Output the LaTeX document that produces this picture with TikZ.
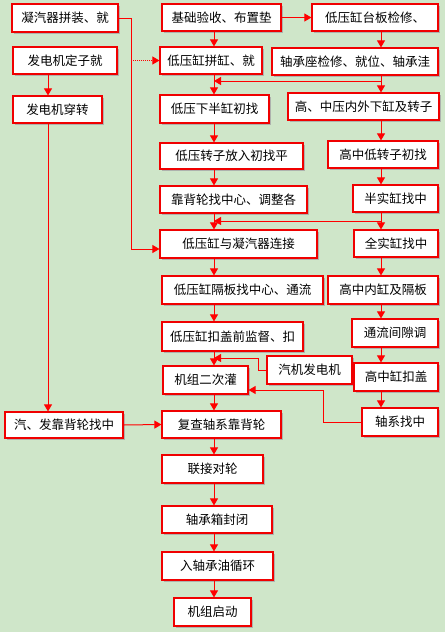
\documentclass[tikz,border=0pt]{standalone}
\usepackage{fontspec}
\newfontfamily\cjk{Noto Sans CJK SC}
\usepackage{xcolor}
\usepackage{tikz}
\usetikzlibrary{arrows.meta,shadows}
\definecolor{bggreen}{RGB}{207,230,201}
\definecolor{boxred}{RGB}{240,0,0}

\begin{document}
\begin{tikzpicture}[x=1pt, y=-1pt,
    box/.style={draw=boxred, line width=1.2pt, fill=white, inner sep=0pt,
        font=\cjk\fontsize{12.5}{14}\selectfont,
        drop shadow={shadow xshift=1.6pt, shadow yshift=-1.6pt, fill=gray!70, opacity=0.8}},
    arr/.style={draw=red, line width=1pt, -{Triangle[length=7pt,width=8pt]}},
    ln/.style={draw=red, line width=1pt},
    dotarr/.style={arr, densely dotted}]
    \useasboundingbox (0,0) rectangle (445,632);
    \fill[bggreen] (0,0) rectangle (445,632);
    % lanes
    \coordinate (laneL) at (48,0);
    \coordinate (laneM) at (214,0);
    \coordinate (laneR) at (381,0);
    % left column
    \node[box, minimum width=106, minimum height=28] (nq) at (65,18) {凝汽器拼装、就};
    \node[box, minimum width=104, minimum height=27] (fd) at (65,60.5) {发电机定子就};
    \node[box, minimum width=89, minimum height=27] (fc) at (57.5,109.5) {发电机穿转};
    \node[box, minimum width=118, minimum height=26] (kq) at (64,425) {汽、发靠背轮找中};
    % middle column
    \node[box, minimum width=119, minimum height=27] (jc) at (221.5,17.5) {基础验收、布置垫};
    \node[box, minimum width=102, minimum height=27] (pg) at (211,60.5) {低压缸拼缸、就};
    \node[box, minimum width=109, minimum height=28] (xb) at (214.5,109) {低压下半缸初找};
    \node[box, minimum width=143, minimum height=26] (zr) at (231.5,156) {低压转子放入初找平};
    \node[box, minimum width=147, minimum height=27] (kb) at (233.5,199.5) {靠背轮找中心、调整各};
    \node[box, minimum width=157, minimum height=28] (lj) at (238.5,244) {低压缸与凝汽器连接};
    \node[box, minimum width=161, minimum height=28] (gb) at (242.5,290) {低压缸隔板找中心、通流};
    \node[box, minimum width=141, minimum height=29] (kg) at (232.5,336.5) {低压缸扣盖前监督、扣};
    \node[box, minimum width=85, minimum height=28] (qf) at (309.5,370) {汽机发电机};
    \node[box, minimum width=85, minimum height=28] (ec) at (205.5,380) {机组二次灌};
    \node[box, minimum width=119, minimum height=27] (fz) at (221.5,424.5) {复查轴系靠背轮};
    \node[box, minimum width=101, minimum height=28] (ld) at (212.5,469) {联接对轮};
    \node[box, minimum width=110, minimum height=27] (fb) at (217,519.5) {轴承箱封闭};
    \node[box, minimum width=111, minimum height=28] (yx) at (217.5,566) {入轴承油循环};
    \node[box, minimum width=77, minimum height=28] (qd) at (212.5,612) {机组启动};
    % right column
    \node[box, minimum width=126, minimum height=27] (tb) at (375,17.5) {低压缸台板检修、};
    \node[box, minimum width=166, minimum height=27] (zc) at (355,61.5) {轴承座检修、就位、轴承洼};
    \node[box, minimum width=151, minimum height=27] (gz) at (363.5,106.5) {高、中压内外下缸及转子};
    \node[box, minimum width=110, minimum height=27] (gd) at (383,154.5) {高中低转子初找};
    \node[box, minimum width=85, minimum height=27] (bs) at (395.5,198.5) {半实缸找中};
    \node[box, minimum width=84, minimum height=27] (qs) at (396,243.5) {全实缸找中};
    \node[box, minimum width=110, minimum height=28] (nb) at (383,290) {高中内缸及隔板};
    \node[box, minimum width=86, minimum height=28] (tl) at (395,333) {通流间隙调};
    \node[box, minimum width=84, minimum height=28] (gk) at (396,377) {高中缸扣盖};
    \node[box, minimum width=76, minimum height=28] (zx) at (400,422) {轴系找中};
    % junctions
    \coordinate (j1) at (381,81);
    \coordinate (j2) at (381,221);
    \coordinate (c5) at (131,249);
    \coordinate (c3) at (258,358);
    \coordinate (c4) at (323,390);
    % left column
    \draw[arr] (fd.south -| laneL) -- (fc.north -| laneL);
    \draw[arr] (fc.south -| laneL) -- (kq.north -| laneL);
    \draw[arr] (kq.east) -- (fz.west);
    \draw[ln] (nq.east) -| (c5);
    \draw[arr] (c5) -- (c5 -| lj.west);
    \draw[dotarr] (fd.east -| c5) -- (pg.west);
    % middle column
    \draw[arr] (jc.east) -- (tb.west);
    \draw[arr] (jc.south -| laneM) -- (pg.north -| laneM);
    \draw[arr] (pg.south -| laneM) -- (xb.north -| laneM);
    \draw[arr] (xb.south -| laneM) -- (zr.north -| laneM);
    \draw[arr] (zr.south -| laneM) -- (kb.north -| laneM);
    \draw[arr] (kb.south -| laneM) -- (lj.north -| laneM);
    \draw[arr] (lj.south -| laneM) -- (gb.north -| laneM);
    \draw[arr] (gb.south -| laneM) -- (kg.north -| laneM);
    \draw[arr] (kg.south -| laneM) -- (ec.north -| laneM);
    \draw[arr] (ec.south -| laneM) -- (fz.north -| laneM);
    \draw[arr] (fz.south -| laneM) -- (ld.north -| laneM);
    \draw[arr] (ld.south -| laneM) -- (fb.north -| laneM);
    \draw[arr] (fb.south -| laneM) -- (yx.north -| laneM);
    \draw[arr] (yx.south -| laneM) -- (qd.north -| laneM);
    \draw[ln] (qf.west) -| (c3);
    \draw[arr] (c3) -- (c3 -| laneM);
    % right column
    \draw[arr] (tb.south -| laneR) -- (zc.north -| laneR);
    \draw[arr] (zc.south -| laneR) -- (gz.north -| laneR);
    \draw[arr] (j1) -- (j1 -| laneM);
    \draw[arr] (gz.south -| laneR) -- (gd.north -| laneR);
    \draw[arr] (gd.south -| laneR) -- (bs.north -| laneR);
    \draw[arr] (bs.south -| laneR) -- (qs.north -| laneR);
    \draw[arr] (j2) -- (j2 -| laneM);
    \draw[arr] (qs.south -| laneR) -- (nb.north -| laneR);
    \draw[arr] (nb.south -| laneR) -- (tl.north -| laneR);
    \draw[arr] (tl.south -| laneR) -- (gk.north -| laneR);
    \draw[arr] (gk.south -| laneR) -- (zx.north -| laneR);
    \draw[ln] (zx.west) -| (c4);
    \draw[arr] (c4) -- (c4 -| ec.east);
\end{tikzpicture}
\end{document}
